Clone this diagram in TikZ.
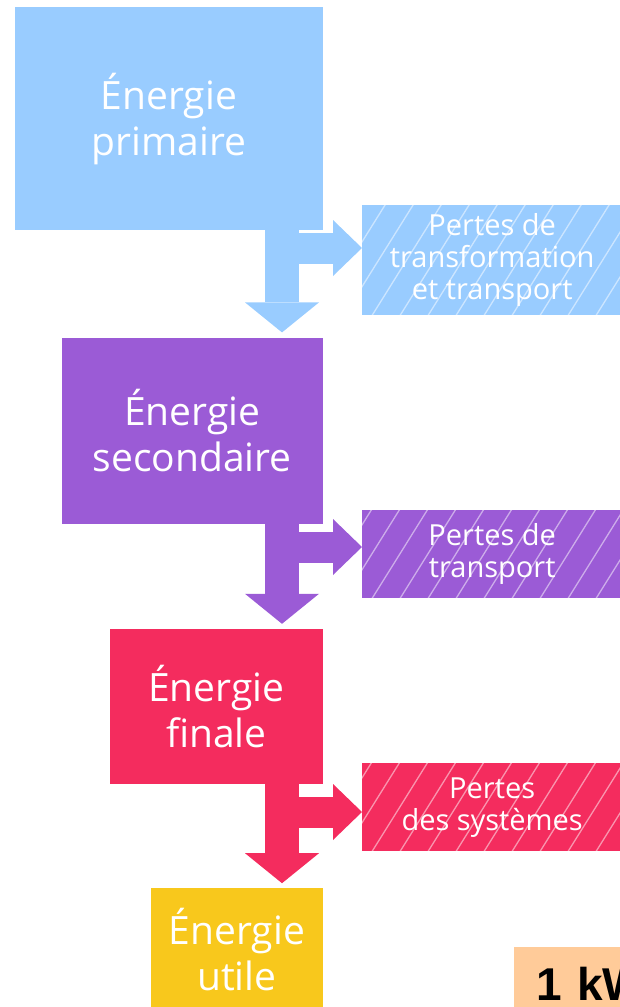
\documentclass[tikz,border=0pt]{standalone}
\usepackage{fontspec}
\setmainfont{Open Sans}
\newfontfamily\kwfont{Liberation Sans}
\usetikzlibrary{arrows.meta,positioning}

\definecolor{primblue}{HTML}{99CCFF}
\definecolor{secpurple}{HTML}{9B5BD6}
\definecolor{finred}{HTML}{F42C5E}
\definecolor{utilyellow}{HTML}{F8C81C}
\definecolor{kwpeach}{HTML}{FFCB99}

\begin{document}
\begin{tikzpicture}[x=1pt, y=-1pt,
      every node/.style={text=white, align=center, inner sep=0pt},
      stage/.style={fill=#1, font=\fontsize{39}{46}\selectfont},
      loss/.style={fill=#1, minimum width=260pt, font=\fontsize{29}{32}\selectfont,
        path picture={\foreach \k in {0,...,16}
          \draw[white, opacity=.5, line width=1.3pt]
            ([xshift=\k*28pt-130pt]path picture bounding box.south west) -- ++(58:240pt);}},
      flow/.style={draw=#1, line width=34pt, shorten >=5pt,
        -{Triangle[width=74pt, length=30pt, line width=0pt]}},
      branch/.style={draw=#1, line width=31pt,
        -{Triangle[width=56pt, length=29pt, line width=0pt]}},
      kwbox/.style={fill=kwpeach, text=black, font=\kwfont\bfseries\fontsize{46}{50}\selectfont,
        text width=110pt, align=left, inner xsep=22pt, minimum height=74pt}
  ]
    \useasboundingbox (0,0) rectangle (619,1007);

    % energy chain
    \node[stage=primblue, minimum width=308pt, minimum height=223pt, anchor=north east] (prim) at (323,7) {Énergie\\primaire};
    \node[stage=secpurple, minimum width=261pt, minimum height=186pt, below=107pt of prim.south east, anchor=north east] (sec) {Énergie\\secondaire};
    \node[stage=finred, minimum width=213pt, minimum height=155pt, below=105pt of sec.south east, anchor=north east] (fin) {Énergie\\finale};
    \node[stage=utilyellow, minimum width=172pt, minimum height=123pt, below=104pt of fin.south east, anchor=north east] (util) {Énergie\\utile};

    % losses
    \node[loss=primblue, minimum height=110pt, anchor=north west] (lossA) at (362,205) {Pertes de\\transformation\\et transport};
    \node[loss=secpurple, minimum height=88pt, anchor=north west] (lossB) at (362,510) {Pertes de\\transport};
    \node[loss=finred, minimum height=88pt, anchor=north west] (lossC) at (362,763) {Pertes\\des systèmes};

    \node[kwbox, anchor=north west] (kw) at (514,947) {1 kW};

    % arrows
    \coordinate (jA) at (282,248);
    \coordinate (jB) at (282,547);
    \coordinate (jC) at (282,812);
    \draw[flow=primblue] (prim.south -| jA) -- (sec.north -| jA);
    \draw[branch=primblue] (jA) -- (jA -| lossA.west);
    \draw[flow=secpurple] (sec.south -| jB) -- (fin.north -| jB);
    \draw[branch=secpurple] (jB) -- (jB -| lossB.west);
    \draw[flow=finred] (fin.south -| jC) -- (util.north -| jC);
    \draw[branch=finred] (jC) -- (jC -| lossC.west);
  \end{tikzpicture}
\end{document}
